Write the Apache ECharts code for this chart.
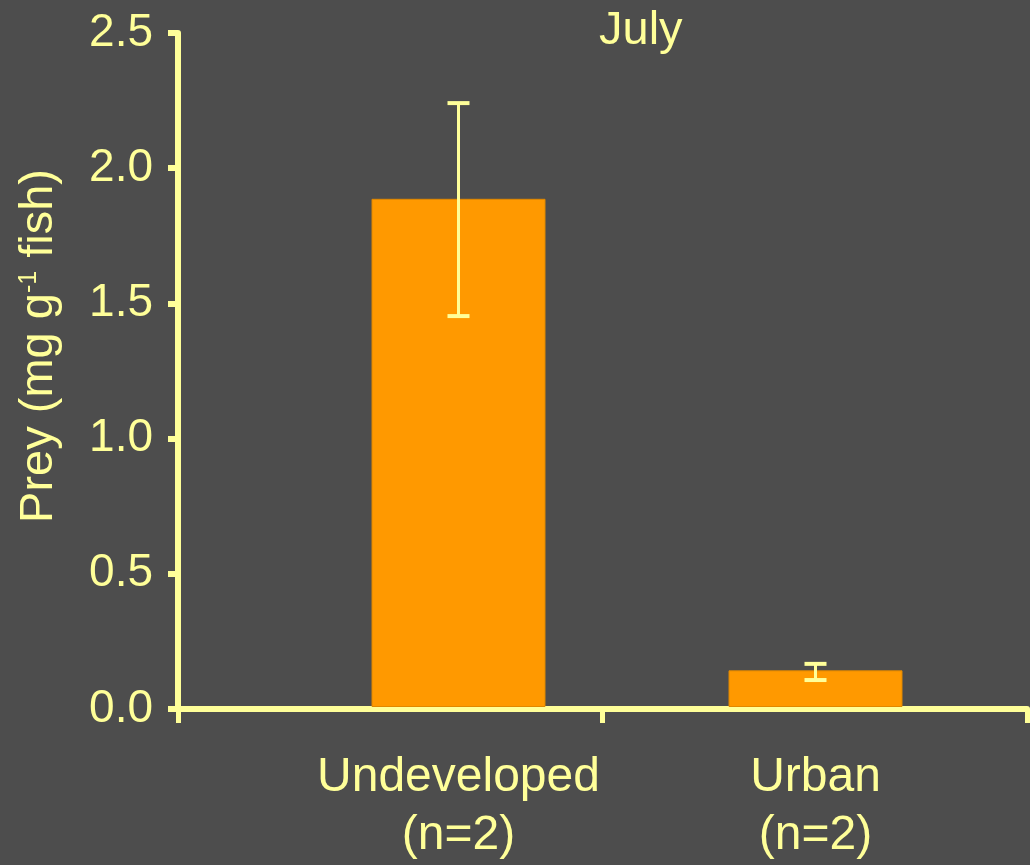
<!DOCTYPE html>
<html>
<head>
<meta charset="utf-8">
<script src="https://cdn.jsdelivr.net/npm/echarts@6/dist/echarts.min.js"></script>
<style>
  html, body { margin: 0; padding: 0; background: #4d4d4d; }
  #chart { width: 1030px; height: 865px; }
</style>
</head>
<body>
<div id="chart"></div>
<script>
// data
var categories = ['Undeveloped\n(n=2)', 'Urban\n(n=2)'];
var preyMeans = [1.885, 0.136];
var errLow = [1.45, 0.10];
var errHigh = [2.24, 0.16];

var TXT = '#ffff99';
var FONT = '"Liberation Sans", Arial, sans-serif';

var chart = echarts.init(document.getElementById('chart'));

var errData = categories.map(function (c, i) {
    return [i, errLow[i], errHigh[i]];
});

var option = {
    backgroundColor: '#4d4d4d',
    animation: false,
    title: {
        text: 'July',
        left: 594,
        top: 3,
        textStyle: { color: TXT, fontFamily: FONT, fontSize: 47, fontWeight: 'normal' }
    },
    grid: [
        // visible axes frame
        { left: 178, right: 3, top: 33, bottom: 156 },
        // bars are not centred in the frame bands, so they get their own grid
        { left: 280, width: 714, top: 33, bottom: 156 }
    ],
    xAxis: [
        {
            gridIndex: 0,
            type: 'value',
            min: 0, max: 2, interval: 1,
            axisLine: { lineStyle: { color: TXT, width: 6 } },
            axisTick: { show: true, length: 14, lineStyle: { color: TXT, width: 5 } },
            axisLabel: { show: false },
            splitLine: { show: false }
        },
        {
            gridIndex: 1,
            type: 'category',
            data: categories,
            axisLine: { show: false },
            axisTick: { show: false },
            axisLabel: {
                interval: 0,
                color: TXT, fontFamily: FONT, fontSize: 48,
                lineHeight: 58, margin: 42
            }
        }
    ],
    yAxis: [
        {
            gridIndex: 0,
            type: 'value',
            min: 0, max: 2.5, interval: 0.5,
            axisLine: { show: true, lineStyle: { color: TXT, width: 6 } },
            axisTick: { show: true, length: 10, lineStyle: { color: TXT, width: 6 } },
            axisLabel: {
                color: TXT, fontFamily: FONT, fontSize: 46, margin: 25,
                formatter: function (v) { return v.toFixed(1); }
            },
            splitLine: { show: false },
            name: '{a|Prey (mg g}{s|-1}{a| fish)}',
            nameLocation: 'middle',
            nameRotate: 90,
            nameGap: 112,
            nameTextStyle: {
                padding: [0, 0, 0, 50],
                rich: {
                    a: { color: TXT, fontFamily: FONT, fontSize: 47, lineHeight: 54 },
                    s: { color: TXT, fontFamily: FONT, fontSize: 25, lineHeight: 54, verticalAlign: 'top', padding: [5, 0, 0, 0] }
                }
            }
        },
        {
            gridIndex: 1,
            type: 'value',
            min: 0, max: 2.5, interval: 0.5,
            show: false
        }
    ],
    series: [
        {
            name: 'Prey',
            type: 'bar',
            xAxisIndex: 1,
            yAxisIndex: 1,
            barWidth: 174,
            data: preyMeans,
            itemStyle: { color: '#ff9900', borderColor: '#e08800', borderWidth: 1 },
            z: 3
        },
        {
            name: 'SE',
            type: 'custom',
            xAxisIndex: 1,
            yAxisIndex: 1,
            data: errData,
            z: 4,
            renderItem: function (params, api) {
                var lo = api.coord([api.value(0), api.value(1)]);
                var hi = api.coord([api.value(0), api.value(2)]);
                var half = 11;
                var st = { stroke: TXT, lineWidth: 3 };
                var capSt = { stroke: TXT, lineWidth: 4 };
                return {
                    type: 'group',
                    children: [
                        { type: 'line', shape: { x1: hi[0], y1: hi[1], x2: lo[0], y2: lo[1] }, style: st },
                        { type: 'line', shape: { x1: hi[0] - half, y1: hi[1], x2: hi[0] + half, y2: hi[1] }, style: capSt },
                        { type: 'line', shape: { x1: lo[0] - half, y1: lo[1], x2: lo[0] + half, y2: lo[1] }, style: capSt }
                    ]
                };
            }
        }
    ]
};

chart.setOption(option);
</script>
</body>
</html>
